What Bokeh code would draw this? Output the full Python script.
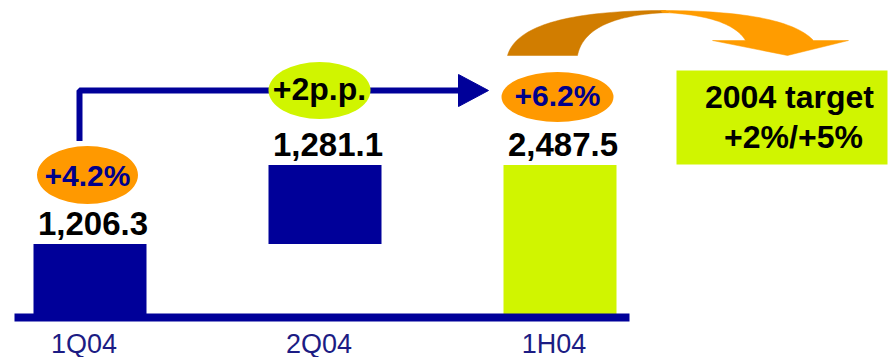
import numpy as np
from bokeh.plotting import figure
from bokeh.models import Range1d
from bokeh.core.properties import value
from bokeh.embed import file_html
from bokeh.resources import INLINE

# ---- data ----
categories = ["1Q04", "2Q04", "1H04"]
values = [1206.3, 1281.1, 2487.5]
value_labels = ["1,206.3", "1,281.1", "2,487.5"]
growth_labels = ["+4.2%", "+2p.p.", "+6.2%"]
target_lines = ["2004 target", "+2%/+5%"]

# ---- styles ----
BLUE = "#000099"
LIME = "#D0F500"
ORANGE = "#FF9900"
DARK_ORANGE = "#D17D00"
NAVY_TXT = "#1C1C84"
FONT = value("Liberation Sans")

W, H = 888, 357
PX_PER_CAT = 235.0
X0_PX = 89.5
BASE_PX = 318.0
TOP_PX = 164.5
VPP = values[2] / (BASE_PX - TOP_PX)  # value units per pixel


def xd(px):
    return (px - X0_PX) / PX_PER_CAT


def yd(py):
    return (BASE_PX - py) * VPP


def dx(px):
    return px / PX_PER_CAT


def dy(px):
    return px * VPP


p = figure(width=W, height=H, x_range=Range1d(xd(0), xd(W)),
           y_range=Range1d(yd(H), yd(0)), output_backend="svg",
           toolbar_location=None, min_border=0, x_axis_type=None,
           y_axis_type=None)
p.grid.visible = False
p.outline_line_color = None
p.background_fill_color = "white"

xs = list(range(len(categories)))
bottoms = [0, values[0], 0]
tops = [values[0], values[0] + values[1], values[2]]
colors = [BLUE, BLUE, LIME]

# bars
p.vbar(x=xs, bottom=bottoms, top=tops, width=dx(113), fill_color=colors,
       line_color=None)

# baseline axis line
p.segment(x0=[xd(14)], y0=[yd(317)], x1=[xd(629)], y1=[yd(317)],
          line_color=BLUE, line_width=8)

# category labels
p.text(x=[x - dx(6) for x in xs], y=[yd(343)] * 3, text=categories,
       text_font=FONT, text_font_size=value("27px"), text_color=NAVY_TXT,
       text_align="center", text_baseline="middle")

# value labels
p.text(x=[x + dx(3) for x in xs], y=[t + dy(21) for t in tops], text=value_labels,
       text_font=FONT, text_font_size=value("33px"), text_font_style="bold",
       text_color="black", text_align="center", text_baseline="middle")

# connector line with arrow
conn_y = yd(90)
ell1_y = tops[0] + dy(69)
p.line(x=[xs[0] - dx(10.5), xs[0] - dx(10.5), xs[2] - dx(101)],
       y=[ell1_y + dy(34), conn_y, conn_y], line_color=BLUE, line_width=6)
p.patch(x=[xs[2] - dx(101.5), xs[2] - dx(71.5), xs[2] - dx(101.5)],
        y=[conn_y + dy(16), conn_y, conn_y - dy(16)], fill_color=BLUE,
        line_color=BLUE, line_width=1)

# growth ellipses
ell_x = [xs[0] - dx(2.5), xs[1] - dx(5.5), xs[2] - dx(2.5)]
ell_y = [ell1_y, conn_y, tops[2] + dy(68)]
p.ellipse(x=ell_x, y=ell_y, width=[101, 102, 112], height=[58, 57, 50],
          width_units="screen", height_units="screen",
          fill_color=[ORANGE, LIME, ORANGE], line_color=None)
p.text(x=ell_x, y=[ell_y[0], ell_y[1] + dy(2), ell_y[2] + dy(2)],
       text=growth_labels, text_font=FONT,
       text_font_size=["30px", "32px", "30px"], text_font_style="bold",
       text_color=["#00008B", "black", "#00008B"], text_align="center",
       text_baseline="middle")

# target box
box_cx, box_cy = xd(781.5), yd(117)
p.rect(x=[box_cx], y=[box_cy], width=211, height=94, width_units="screen",
       height_units="screen", fill_color=LIME, line_color=None)
p.text(x=[xd(789), xd(793)], y=[yd(96.5), yd(136.5)], text=target_lines,
       text_font=FONT, text_font_size=value("32px"), text_font_style="bold",
       text_color="black", text_align="center", text_baseline="middle")


# curved arrow (decoration)
def qbez(p0, c, p2, n=40):
    t = np.linspace(0, 1, n)[:, None]
    P0, C, P2 = np.array(p0), np.array(c), np.array(p2)
    return (1 - t) ** 2 * P0 + 2 * t * (1 - t) * C + t ** 2 * P2


outer_dark = qbez((507, 55), (520, 10), (665, 10))
inner_dark = qbez((577, 55), (585, 15), (668, 12))
dark = np.vstack([outer_dark, inner_dark[::-1]])
p.patch(x=xd(dark[:, 0]), y=yd(dark[:, 1]), fill_color=DARK_ORANGE,
        line_color=DARK_ORANGE, line_width=0.5)

upper = qbez((660, 10), (785, 10), (813, 40))
lower = qbez((662, 12), (730, 15), (745, 40))
head = np.array([(848, 40), (787, 55), (712, 40)])
bright = np.vstack([upper, head, lower[::-1]])
p.patch(x=xd(bright[:, 0]), y=yd(bright[:, 1]), fill_color="#FF9C00",
        line_color="#FF9C00", line_width=0.5)

open("out.html", "w").write(file_html(p, INLINE))
